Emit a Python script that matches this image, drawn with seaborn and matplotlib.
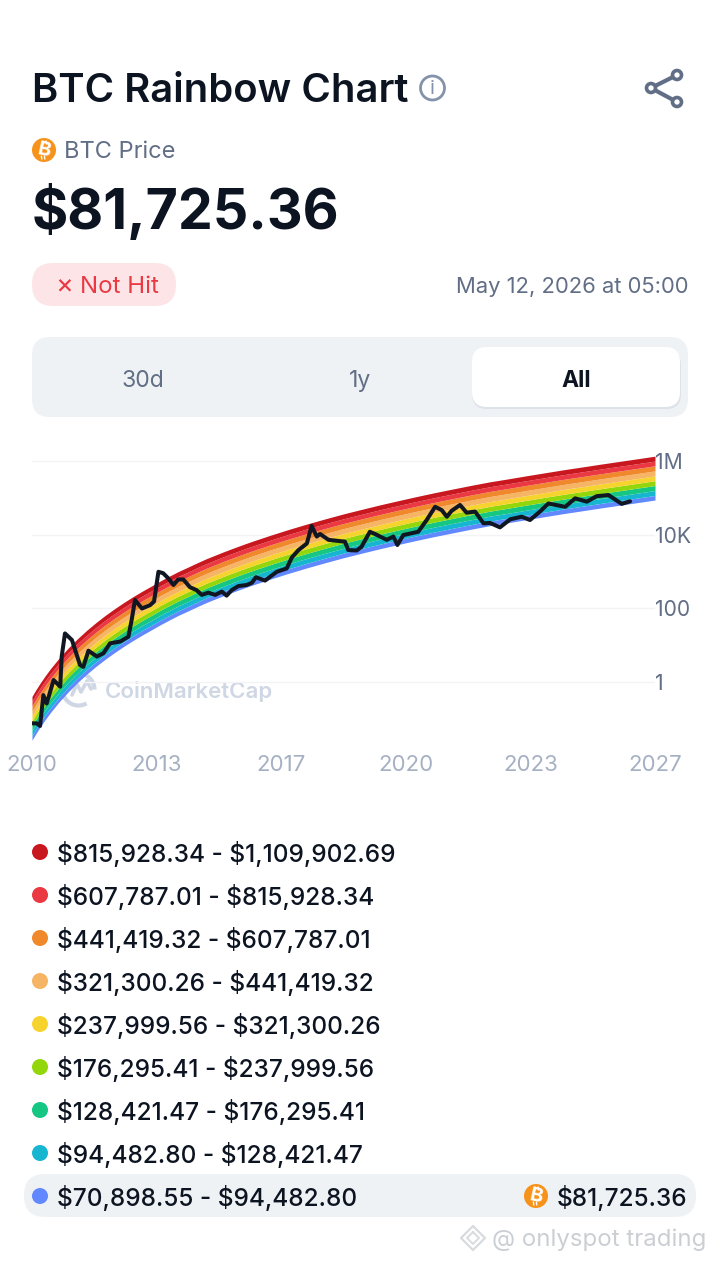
import numpy as np
import pandas as pd
import seaborn as sns
import matplotlib
matplotlib.use("Agg")
import matplotlib.pyplot as plt
from matplotlib.patches import FancyBboxPatch, Circle, Arc
from matplotlib.lines import Line2D

# ---- data ----
tick_years = [2010, 2013.4, 2016.8, 2020.2, 2023.6, 2027]
tick_year_labels = ["2010", "2013", "2017", "2020", "2023", "2027"]
price_ticks = [1, 100, 10000, 1000000]
price_tick_labels = ["1", "100", "10K", "1M"]

band_edges_now = [70898.55, 94482.80, 128421.47, 176295.41, 237999.56,
                  321300.26, 441419.32, 607787.01, 815928.34, 1109902.69]
band_colors = ["#6188FF", "#16B6D0", "#16C784", "#93D60C", "#F6D32D",
               "#F5B565", "#F0882C", "#EA3943", "#C91720"]

floor_years = [2010, 2010.1, 2010.2, 2010.35, 2010.5, 2010.75, 2011, 2011.25, 2011.5, 2011.75,
               2012, 2012.25, 2012.5, 2012.75, 2013, 2013.25, 2013.5, 2013.75, 2014, 2014.25,
               2014.5, 2014.75, 2015, 2015.25, 2015.5, 2015.75, 2016, 2016.5, 2017, 2017.5,
               2018, 2018.5, 2019, 2019.5, 2020, 2020.5, 2021, 2021.5, 2022, 2022.5,
               2023, 2023.5, 2024, 2024.5, 2025, 2025.5, 2026, 2026.5, 2027]
floor_log10 = [-1.600, -1.431, -1.273, -1.053, -0.850, -0.543, -0.270, -0.020, 0.207, 0.415,
               0.608, 0.787, 0.955, 1.113, 1.262, 1.402, 1.545, 1.677, 1.805, 1.919,
               2.036, 2.148, 2.249, 2.348, 2.442, 2.534, 2.622, 2.789, 2.947, 3.096,
               3.237, 3.372, 3.497, 3.619, 3.734, 3.846, 3.953, 4.054, 4.153, 4.247,
               4.328, 4.412, 4.493, 4.574, 4.649, 4.725, 4.798, 4.871, 4.945]

btc_years = [2010.00, 2010.13, 2010.22, 2010.31, 2010.40, 2010.59, 2010.77, 2010.81, 2010.90,
             2011.09, 2011.31, 2011.40, 2011.54, 2011.77, 2011.95, 2012.13, 2012.41, 2012.63,
             2012.72, 2012.81, 2013.00, 2013.22, 2013.33, 2013.45, 2013.58, 2013.72, 2013.86,
             2013.99, 2014.13, 2014.31, 2014.49, 2014.63, 2014.81, 2015.00, 2015.18, 2015.31,
             2015.45, 2015.63, 2015.86, 2016.00, 2016.11, 2016.36, 2016.68, 2016.95, 2017.09,
             2017.27, 2017.50, 2017.63, 2017.77, 2017.86, 2018.09, 2018.54, 2018.63, 2018.86,
             2018.99, 2019.22, 2019.36, 2019.68, 2019.86, 2019.97, 2020.13, 2020.54, 2020.77,
             2021.00, 2021.18, 2021.32, 2021.45, 2021.68, 2021.86, 2022.09, 2022.32, 2022.50,
             2022.77, 2023.05, 2023.36, 2023.59, 2023.86, 2024.09, 2024.55, 2024.82, 2025.14,
             2025.41, 2025.73, 2026.09, 2026.32]
btc_log10 = [-1.14, -1.14, -1.21, -0.37, -0.60, 0.04, -0.14, 0.68, 1.31,
             1.13, 0.45, 0.40, 0.84, 0.68, 0.77, 1.04, 1.09, 1.22,
             1.68, 2.22, 1.99, 2.08, 2.18, 2.99, 2.95, 2.81, 2.63,
             2.78, 2.78, 2.57, 2.49, 2.36, 2.42, 2.36, 2.45, 2.34,
             2.49, 2.60, 2.63, 2.69, 2.84, 2.75, 2.99, 3.08, 3.38,
             3.58, 3.76, 4.24, 3.95, 4.02, 3.86, 3.81, 3.58, 3.57,
             3.67, 4.08, 4.02, 3.86, 3.95, 3.72, 3.99, 4.08, 4.40,
             4.76, 4.67, 4.49, 4.65, 4.81, 4.60, 4.63, 4.31, 4.32,
             4.20, 4.42, 4.49, 4.40, 4.63, 4.85, 4.76, 4.99, 4.90,
             5.05, 5.08, 4.84, 4.91]

current_price = 81725.36

# ---- figure ----
sns.set_theme(style="white")
FONT = ["Inter", "DejaVu Sans"]
plt.rcParams["font.family"] = FONT
W, H = 720, 1262
fig = plt.figure(figsize=(W / 100, H / 100), dpi=100, facecolor="white")

# page overlay in pixel coordinates
ui = fig.add_axes([0, 0, 1, 1])
ui.set_xlim(0, W)
ui.set_ylim(H, 0)
ui.axis("off")

DARK = "#0D1421"
GREY = "#616E85"


def pill(x0, y0, x1, y1, r, color, z=1, **kw):
    ui.add_patch(FancyBboxPatch((x0 + r, y0 + r), x1 - x0 - 2 * r, y1 - y0 - 2 * r,
                                boxstyle=f"round,pad={r},rounding_size={r}",
                                fc=color, ec="none", zorder=z, **kw))


def btc_icon(x, y, r=12):
    ui.add_patch(Circle((x, y), r, fc="#F7931A", ec="none", zorder=3))
    ui.text(x, y, "B", color="white", fontsize=r * 1.2, fontweight="bold", rotation=-12,
            ha="center", va="center", zorder=4, parse_math=False)
    for dx in (-1.0, 2.0):
        ui.plot([x + dx, x + dx + 0.4], [y - 9, y - 6], color="white", lw=1, zorder=4)
        ui.plot([x + dx - 1.6, x + dx - 1.2], [y + 6, y + 9], color="white", lw=1, zorder=4)


def label(x, y, s, size, color=DARK, weight="normal", ha="left", z=5, **kw):
    ui.text(x, y, s, fontsize=size * 0.72, color=color, fontweight=weight,
            ha=ha, va="center", zorder=z, parse_math=False, **kw)


# header
label(32, 91, "BTC Rainbow Chart", 40, weight="semibold")
ui.add_patch(Circle((432.5, 88), 12, fc="none", ec="#8492AB", lw=2))
label(432.5, 89, "i", 20, color="#8492AB", ha="center")
nodes = [(677, 75), (651, 88), (677, 102)]
ui.add_line(Line2D([677, 651, 677], [75, 88, 102], color="#616E85", lw=3, zorder=2))
for n in nodes:
    ui.add_patch(Circle(n, 4.5, fc="white", ec="#616E85", lw=2.6, zorder=3))

btc_icon(44, 150)
label(64, 152, "BTC Price", 23.6, color=GREY)
label(32, 211, f"${current_price:,.2f}", 55.5, weight="bold")

pill(32, 263, 176, 306, 21, "#FDE5E7")
label(64, 286, "\u00d7", 27, color="#EA3943", ha="center")
label(80, 287, "Not Hit", 24, color="#EA3943")
label(688, 287, "May 12, 2026 at 05:00", 22, color=GREY, ha="right")

# range tabs
pill(32, 337, 688, 417, 18, "#EFF2F5")
pill(472, 350, 681, 409, 15, "#DDE1E8", z=1.5)
pill(472, 347, 680, 407, 15, "white", z=2)
label(143, 381, "30d", 23, color=GREY, ha="center")
label(360, 381, "1y", 23, color=GREY, ha="center")
label(576, 381, "All", 23, weight="bold", ha="center")

# legend rows
row_ys = [1196, 1153, 1110, 1067, 1024, 981, 938, 895, 852]
pill(24, 1174, 696, 1217, 21, "#EFF2F5")
for i, (y, c) in enumerate(zip(row_ys, band_colors)):
    ui.add_patch(Circle((40, y), 8, fc=c, ec="none", zorder=3))
    label(57, y + 2, f"${band_edges_now[i]:,.2f} - ${band_edges_now[i + 1]:,.2f}", 24.35,
          weight="medium")
btc_icon(536, 1196)
label(687, 1198, f"${current_price:,.2f}", 24.35, weight="medium", ha="right")

# watermarks
label(492, 1240, "@ onlyspot trading", 24, color="#CBCFD4", z=6)
ui.plot([473, 461, 473, 485, 473], [1226, 1238, 1250, 1238, 1226], color="#D8DBDF", lw=1.6, zorder=6)
ui.plot([473, 467, 473, 479, 473], [1232, 1238, 1244, 1238, 1232], color="#D8DBDF", lw=1.4, zorder=6)

ui.text(189.5, 691, "CoinMarketCap", fontsize=16, color="#CFD6E4", fontweight="semibold",
        ha="center", va="center", zorder=0, parse_math=False)
ui.add_patch(Arc((78.5, 689.5), 32, 32, theta1=60, theta2=360, ec="#CFD6E4", lw=3, zorder=0))
ui.plot([72, 77, 81, 87, 91], [695, 684, 692, 681, 689], color="#CFD6E4", lw=2.6, zorder=0)

# chart
ax = fig.add_axes([32 / W, 1 - 745 / H, 623 / W, 300 / H], facecolor="none")
ax.set_yscale("log")
ax.set_xlim(2010, 2027)
ax.set_ylim(10 ** -1.73, 10 ** 6.444)

offsets = np.log10(np.array(band_edges_now) / band_edges_now[0])
floor = np.array(floor_log10)
for i, c in enumerate(band_colors):
    ax.fill_between(floor_years, 10 ** (floor + offsets[i]), 10 ** (floor + offsets[i + 1]),
                    color=c, lw=0, zorder=2)

btc = pd.DataFrame({"year": btc_years, "price": 10 ** np.array(btc_log10)})
sns.lineplot(data=btc, x="year", y="price", color="#111722", lw=2.9, ax=ax,
             errorbar=None, zorder=4, estimator=None)

ax.set_xlabel("")
ax.set_ylabel("")
ax.set_xticks(tick_years, tick_year_labels)
ax.set_yticks(price_ticks, price_tick_labels)
ax.minorticks_off()
ax.yaxis.tick_right()
ax.tick_params(axis="x", length=0, pad=7, labelsize=16, labelcolor="#A6B0C3")
ax.tick_params(axis="y", length=0, pad=0, labelsize=15.2, labelcolor=GREY)
ax.grid(axis="y", color="#F3F4F6", lw=1)
ax.set_axisbelow(True)
sns.despine(ax=ax, left=True, bottom=True, right=True, top=True)

fig.savefig("out.png", dpi=100, facecolor="white")
